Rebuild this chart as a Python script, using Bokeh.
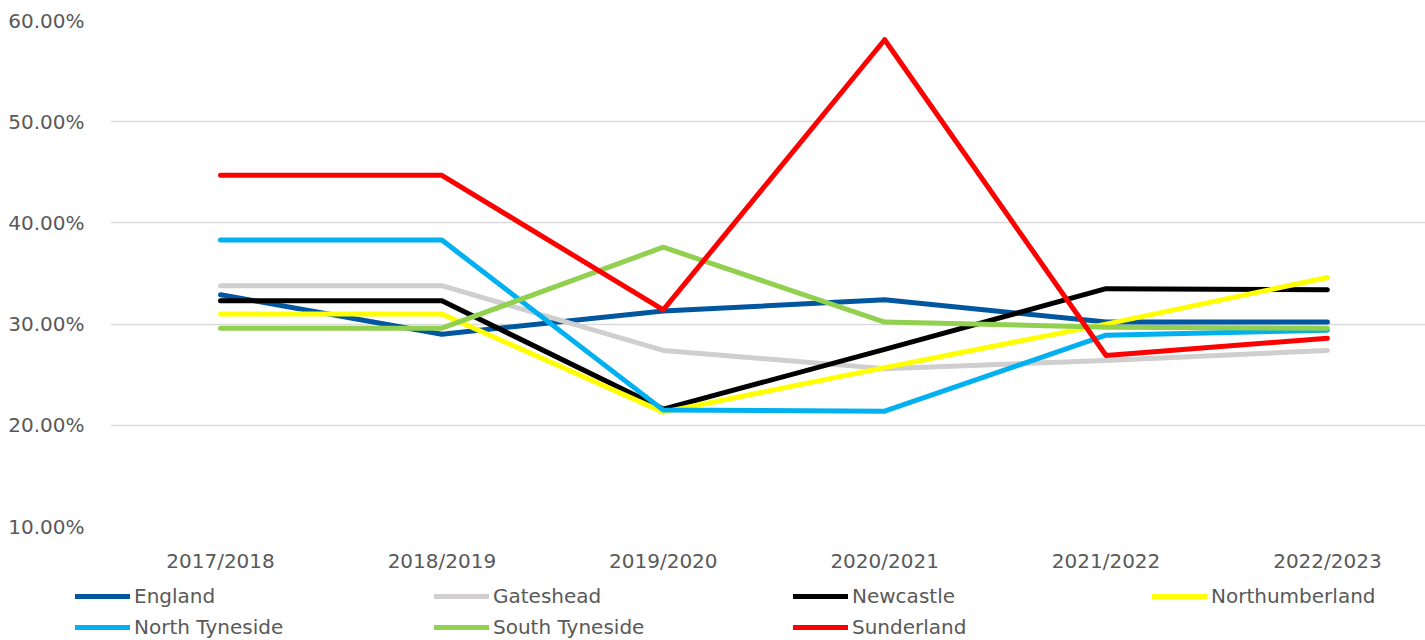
from bokeh.plotting import figure
from bokeh.layouts import column
from bokeh.models import Range1d, FixedTicker, NumeralTickFormatter, Legend, LegendItem
from bokeh.embed import file_html
from bokeh.resources import INLINE

categories = ["2017/2018", "2018/2019", "2019/2020", "2020/2021", "2021/2022", "2022/2023"]
england = [0.329, 0.290, 0.313, 0.324, 0.302, 0.302]
gateshead = [0.338, 0.338, 0.274, 0.256, 0.264, 0.274]
newcastle = [0.323, 0.323, 0.216, 0.275, 0.335, 0.334]
northumberland = [0.310, 0.310, 0.213, 0.257, 0.300, 0.346]
north_tyneside = [0.383, 0.383, 0.215, 0.214, 0.289, 0.294]
south_tyneside = [0.296, 0.296, 0.376, 0.302, 0.297, 0.296]
sunderland = [0.447, 0.447, 0.314, 0.581, 0.269, 0.286]

series_names = ["England", "Gateshead", "Newcastle", "Northumberland",
                "North Tyneside", "South Tyneside", "Sunderland"]
series_values = [england, gateshead, newcastle, northumberland,
                 north_tyneside, south_tyneside, sunderland]
series_colors = ["#0057A0", "#D0CECE", "#000000", "#FFFF00",
                 "#00B0F0", "#92D050", "#FF0000"]

FONT = "DejaVu Sans"
TXT = "#595959"

xs = list(range(len(categories)))

p = figure(width=1425, height=575, output_backend="svg", toolbar_location=None,
           x_range=Range1d(-0.497, 5.443), y_range=Range1d(0.10, 0.60),
           min_border_left=110, min_border_right=0, min_border_top=20,
           min_border_bottom=48)
p.outline_line_color = None
p.background_fill_color = "white"
p.border_fill_color = "white"

for name, vals, col in zip(series_names, series_values, series_colors):
    p.line(xs, vals, line_color=col, line_width=5, line_cap="round", line_join="round")

# axes
p.xaxis.ticker = FixedTicker(ticks=xs)
p.xaxis.major_label_overrides = {i: c for i, c in enumerate(categories)}
p.yaxis.ticker = FixedTicker(ticks=[0.1, 0.2, 0.3, 0.4, 0.5, 0.6])
p.yaxis.formatter = NumeralTickFormatter(format="0.00%")
for ax in (p.xaxis, p.yaxis):
    ax.axis_line_color = None
    ax.major_tick_line_color = None
    ax.minor_tick_line_color = None
    ax.major_label_text_font = FONT
    ax.major_label_text_font_size = "20px"
    ax.major_label_text_color = TXT
p.yaxis.major_label_standoff = 20
p.xaxis.major_label_standoff = 16

p.xgrid.grid_line_color = None
p.ygrid.grid_line_color = "#D9D9D9"
p.ygrid.grid_line_width = 1.5

# legend strip (same series, drawn out of view so only the legend shows)
lg = figure(width=1425, height=65, output_backend="svg", toolbar_location=None,
            x_range=Range1d(-0.497, 5.443), y_range=Range1d(2, 3),
            min_border=0, x_axis_type=None, y_axis_type=None)
lg.frame_align = False
lg.outline_line_color = None
lg.grid.grid_line_color = None
item_by_name = {}
for name, vals, col in zip(series_names, series_values, series_colors):
    r = lg.line(xs, vals, line_color=col, line_width=5, line_cap="round")
    item_by_name[name] = LegendItem(label=name, renderers=[r])

# legend grid is filled column by column: order so rows read like the reference
legend_order = ["England", "North Tyneside", "Gateshead", "South Tyneside",
                "Newcastle", "Sunderland", "Northumberland"]
legend = Legend(items=[item_by_name[n] for n in legend_order], ncols=4, location=(75, 1),
                label_text_font=FONT, label_text_font_size="20px",
                label_text_color=TXT, glyph_width=55, glyph_height=20,
                label_height=24, label_width=293, label_standoff=4,
                spacing=7, padding=0, margin=0, border_line_color=None,
                background_fill_alpha=0)
lg.add_layout(legend, "center")

layout = column(p, lg, spacing=0)
open("out.html", "w").write(file_html(layout, INLINE))
